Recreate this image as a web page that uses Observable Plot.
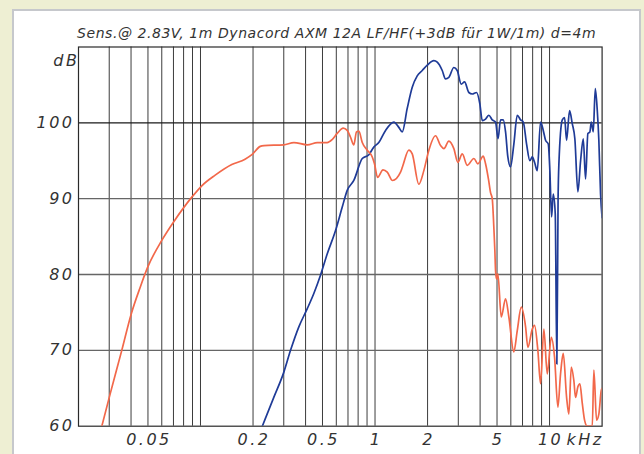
<!DOCTYPE html>
<html>
<head>
<meta charset="utf-8">
<script src="https://cdn.jsdelivr.net/npm/d3@7"></script>
<script src="https://cdn.jsdelivr.net/npm/@observablehq/plot@0.6"></script>
<style>
  html, body { margin: 0; padding: 0; background: #eeefd3; }
  #wrap { position: relative; width: 644px; height: 454px; overflow: hidden; background: #eeefd3; }
  #panel { position: absolute; left: 12px; top: 9px; width: 625px; height: 470px; background: #ffffff; border: 2px solid #c6c8cc; }
  #chart { position: absolute; left: 0; top: 0; }
</style>
</head>
<body>
<div id="wrap"><div id="panel"></div><div id="chart"></div></div>
<script>
// LF (red/orange) response: frequency in kHz, level in dB
const lfFreq = [0.0272, 0.0304, 0.0354, 0.0401, 0.0451, 0.0499, 0.060, 0.070, 0.0892, 0.1017,
  0.1214, 0.1511, 0.180, 0.197, 0.220, 0.231, 0.300, 0.343, 0.409, 0.467,
  0.532, 0.568, 0.607, 0.657, 0.693, 0.724, 0.756, 0.783, 0.808, 0.845,
  0.902, 0.964, 0.993, 1.034, 1.111, 1.175, 1.260, 1.400, 1.437, 1.562,
  1.634, 1.782, 1.904, 2.034, 2.222, 2.374, 2.480, 2.648, 2.829, 2.982,
  3.160, 3.376, 3.684, 3.883, 4.170, 4.298, 4.471, 4.591, 4.695, 4.795,
  4.859, 4.904, 4.970, 5.055, 5.287, 5.596, 5.845, 6.243, 6.530, 6.884,
  7.288, 7.511, 7.960, 8.204, 8.570, 8.880, 9.276, 9.700, 10.23, 10.68,
  11.16, 11.56, 11.98, 12.52, 12.90, 13.32, 13.78, 14.09, 14.53, 14.92,
  15.40, 15.87, 16.44, 17.57, 17.94, 18.59, 19.16, 19.78, 20.0];
const lfDb = [60.0, 64.3, 70.0, 74.8, 78.3, 81.0, 84.5, 86.9, 90.2, 91.7,
  93.1, 94.5, 95.2, 95.8, 96.9, 97.0, 97.1, 97.4, 97.1, 97.4,
  97.4, 97.8, 98.6, 99.3, 99.0, 98.1, 97.1, 98.8, 98.9, 97.4,
  96.4, 95.5, 94.6, 92.8, 93.8, 93.5, 92.4, 93.5, 94.2, 96.4,
  95.9, 91.9, 93.7, 96.4, 98.3, 97.0, 96.6, 97.6, 96.6, 94.8,
  95.9, 94.4, 95.3, 94.6, 95.6, 94.6, 92.5, 90.8, 90.0, 86.2,
  83.2, 80.5, 79.4, 80.1, 74.4, 76.8, 74.4, 69.8, 72.6, 75.7,
  73.1, 70.4, 72.8, 73.3, 70.0, 65.6, 72.8, 66.9, 71.7, 69.1,
  62.5, 66.9, 69.6, 63.8, 61.6, 67.8, 66.0, 63.8, 65.2, 65.6,
  63.0, 60.8, 60.0, 60.0, 67.4, 60.8, 61.6, 64.7, 65.0];

// HF (blue) response
const hfFreq = [0.226, 0.263, 0.300, 0.328, 0.366, 0.409, 0.446, 0.487, 0.532, 0.594,
  0.649, 0.693, 0.756, 0.845, 0.922, 0.984, 1.051, 1.149, 1.282, 1.369,
  1.432, 1.529, 1.634, 1.745, 1.864, 1.991, 2.173, 2.272, 2.427, 2.535,
  2.648, 2.829, 2.958, 3.119, 3.258, 3.448, 3.606, 3.817, 3.986, 4.115,
  4.298, 4.488, 4.695, 4.904, 5.069, 5.238, 5.428, 5.596, 5.768, 5.977,
  6.243, 6.530, 6.822, 7.070, 7.385, 7.713, 7.960, 8.204, 8.502, 8.880,
  9.203, 9.486, 9.830, 10.04, 10.27, 10.50, 10.78, 11.01, 11.19, 11.31,
  11.83, 12.19, 12.52, 13.02, 13.49, 13.96, 14.53, 15.06, 15.60, 16.08,
  16.58, 17.02, 17.34, 17.80, 18.28, 18.77, 19.16, 19.60, 20.0];
const hfDb = [60.0, 63.8, 67.1, 70.0, 73.1, 75.5, 77.5, 79.9, 82.7, 85.8,
  88.9, 91.1, 92.4, 95.3, 95.8, 96.8, 97.4, 99.0, 100.1, 99.4,
  98.8, 101.9, 104.7, 106.2, 106.9, 107.6, 108.2, 108.0, 106.9, 105.8,
  106.0, 107.3, 106.9, 105.1, 105.4, 104.0, 103.8, 104.0, 102.5, 100.3,
  100.5, 101.0, 100.4, 100.1, 97.9, 100.4, 100.4, 98.8, 95.5, 94.2,
  97.2, 101.0, 100.4, 100.1, 97.2, 95.0, 95.5, 94.8, 93.7, 100.1,
  99.0, 97.7, 97.2, 93.7, 87.6, 90.6, 88.0, 68.2, 90.0, 94.6,
  100.4, 100.7, 97.7, 101.6, 99.9, 97.9, 90.9, 95.0, 97.9, 92.6,
  98.6, 98.8, 100.1, 98.8, 104.5, 101.6, 97.7, 90.6, 87.5];

const xTicks = [0.05, 0.2, 0.5, 1, 2, 5, 10];
const xTickLabels = ["0.05", "0.2", "0.5", "1", "2", "5", "10"];
const xUnit = "kHz";
const yTicks = [60, 70, 80, 90, 100];
const yUnit = "dB";
const xGrid = [0.03, 0.04, 0.05, 0.06, 0.07, 0.08, 0.09, 0.1,
  0.2, 0.3, 0.4, 0.5, 0.6, 0.7, 0.8, 0.9, 1,
  2, 3, 4, 5, 6, 7, 8, 9, 10];
const yGridMinor = [70, 80, 90];
const yGridMajor = [100];
const titleText = "Sens.@ 2.83V, 1m Dynacord AXM 12A LF/HF(+3dB für 1W/1m) d=4m";

const lf = lfFreq.map((f, i) => ({f, db: lfDb[i]}));
const hf = hfFreq.map((f, i) => ({f, db: hfDb[i]}));

const font = "DejaVu Sans";
const txt = {fontFamily: font, fontStyle: "italic", fill: "#333"};

const chart = Plot.plot({
  width: 644,
  height: 454,
  marginLeft: 78,
  marginRight: 42.4,
  marginTop: 46.5,
  marginBottom: 28.3,
  x: {type: "log", domain: [0.02, 20], axis: null},
  y: {domain: [60, 110], axis: null},
  style: {background: "transparent", fontFamily: font, letterSpacing: "2.5px", overflow: "visible"},
  marks: [
    Plot.ruleX(xGrid, {x: d => d, stroke: "#3c3c3c", strokeWidth: 1}),
    Plot.ruleY(yGridMinor, {y: d => d, stroke: "#666", strokeWidth: 1.3}),
    Plot.ruleY(yGridMajor, {y: d => d, stroke: "#1a1a1a", strokeWidth: 1.3}),
    Plot.frame({stroke: "#2a2a2a", strokeWidth: 1.2}),
    Plot.line(hf, {x: "f", y: "db", stroke: "#1f3b97", strokeWidth: 1.7, curve: "monotone-x", clip: true}),
    Plot.line(lf, {x: "f", y: "db", stroke: "#f2684a", strokeWidth: 1.7, curve: "monotone-x", clip: true}),
    Plot.text(xTicks, {x: d => d, text: (d, i) => xTickLabels[i], frameAnchor: "bottom", dy: 13.5, dx: 1, lineAnchor: "middle", fontSize: 16, ...txt}),
    Plot.text([xUnit], {x: () => 10, text: d => d, frameAnchor: "bottom", dy: 13.5, dx: 17, textAnchor: "start", lineAnchor: "middle", fontSize: 16, ...txt}),
    Plot.text(yTicks, {y: d => d, text: d => String(d), frameAnchor: "left", textAnchor: "end", dx: -4, fontSize: 16, ...txt}),
    Plot.text([yUnit], {text: d => d, frameAnchor: "top-left", textAnchor: "end", dx: 1, dy: 13.5, lineAnchor: "middle", fontSize: 16, ...txt}),
    Plot.text([titleText], {text: d => d, frameAnchor: "top-right", textAnchor: "end", dx: -4, dy: -13, lineAnchor: "middle", fontSize: 14, className: "ttl", ...txt})
  ]
});

document.getElementById("chart").appendChild(chart);

// stretch the title across its original width
chart.querySelectorAll("text").forEach(t => {
  if (t.textContent.startsWith("Sens")) {
    t.setAttribute("textLength", 521);
    t.setAttribute("lengthAdjust", "spacing");
  }
});
</script>
</body>
</html>
